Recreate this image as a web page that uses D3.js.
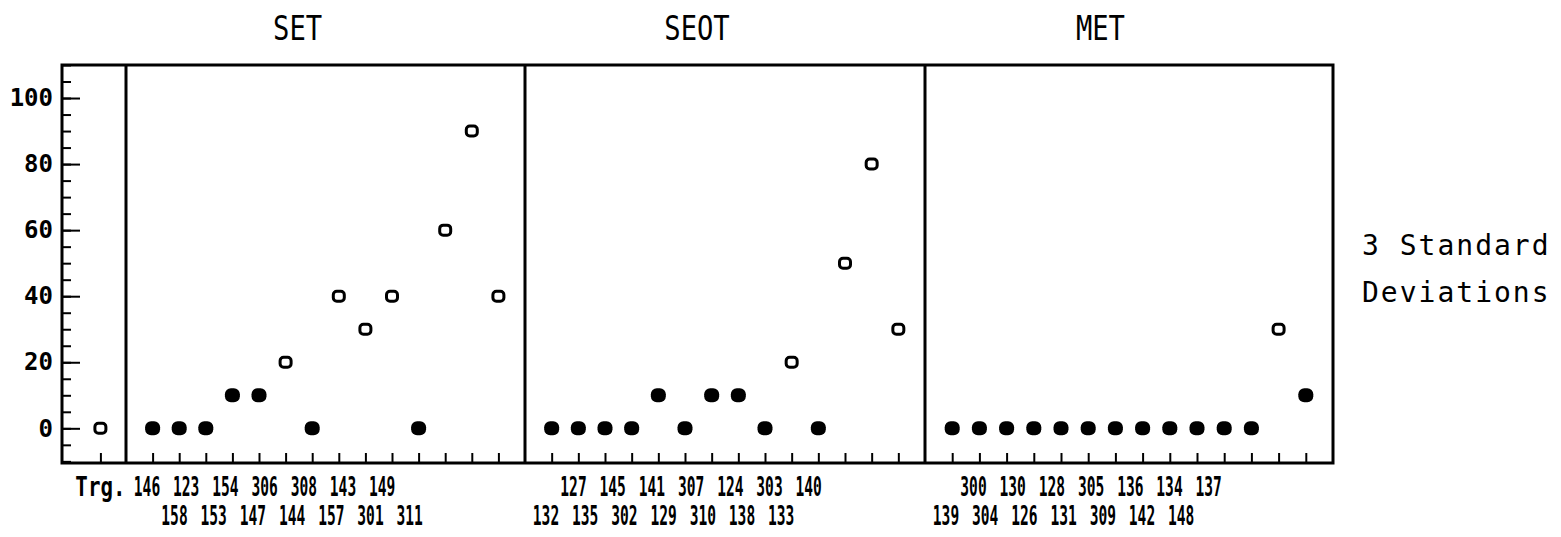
<!DOCTYPE html>
<html>
<head>
<meta charset="utf-8">
<script src="https://cdn.jsdelivr.net/npm/d3@7"></script>
<style>
  body { margin: 0; background: #fff; }
  text { font-family: "DejaVu Sans Mono", monospace; fill: #000; }
</style>
</head>
<body>
<div id="chart"></div>
<script>
// values (0/1 = filled dot / open "o")
var trgIds = ["Trg."];
var trgValues = [0];
var trgOpen = [1];

var setIds = ["146", "158", "123", "153", "154", "147", "306", "144", "308", "157", "143", "301", "149", "311"];
var setValues = [0, 0, 0, 10, 10, 20, 0, 40, 30, 40, 0, 60, 90, 40];
var setOpen = [0, 0, 0, 0, 0, 1, 0, 1, 1, 1, 0, 1, 1, 1];

var seotIds = ["132", "127", "135", "145", "302", "141", "129", "307", "310", "124", "138", "303", "133", "140"];
var seotValues = [0, 0, 0, 0, 10, 0, 10, 10, 0, 20, 0, 50, 80, 30];
var seotOpen = [0, 0, 0, 0, 0, 0, 0, 0, 0, 1, 0, 1, 1, 1];

var metIds = ["139", "300", "304", "130", "126", "128", "131", "305", "309", "136", "142", "134", "148", "137"];
var metValues = [0, 0, 0, 0, 0, 0, 0, 0, 0, 0, 0, 0, 30, 10];
var metOpen = [0, 0, 0, 0, 0, 0, 0, 0, 0, 0, 0, 0, 1, 0];

var titles = ["SET", "SEOT", "MET"];
var yTicks = [0, 20, 40, 60, 80, 100];
var note = ["3 Standard", "Deviations"];

var width = 1561, height = 537;
// frame edges (window.top is taken, so no "top" here)
var fLeft = 62, fRight = 1333, fTop = 65, fBottom = 463;
var edges = [62, 126, 525, 925, 1333];

var svg = d3.select("#chart").append("svg")
  .attr("width", width).attr("height", height);

var y = d3.scaleLinear().domain([-10.5, 110]).range([fBottom, fTop]);

// panels: leadRow 0 = first label on the upper line
var panels = [
  { ids: setIds, values: setValues, open: setOpen, title: titles[0], leadRow: 0 },
  { ids: seotIds, values: seotValues, open: seotOpen, title: titles[1], leadRow: 1 },
  { ids: metIds, values: metValues, open: metOpen, title: titles[2], leadRow: 1 }
];
panels.forEach(function(p, i) {
  p.x0 = edges[i + 1];
  p.x1 = edges[i + 2];
  p.x = d3.scalePoint().domain(p.ids).range([p.x0, p.x1]).padding(1);
});
var trgX = d3.scalePoint().domain(trgIds).range([edges[0], edges[1]]).padding(1).align(0.6);

// y axis, minor and major ticks drawn inward
svg.append("g")
  .attr("transform", "translate(" + fLeft + ",0)")
  .call(d3.axisLeft(y).tickValues(d3.range(-10, 111, 5)).tickSize(-9).tickFormat(""))
  .call(function(g) { g.select(".domain").remove(); })
  .selectAll("line").attr("stroke", "#000").attr("stroke-width", 2);

var yAxis = svg.append("g")
  .attr("transform", "translate(" + fLeft + ",0)")
  .call(d3.axisLeft(y).tickValues(yTicks).tickSize(-18).tickPadding(9))
  .call(function(g) { g.select(".domain").remove(); });
yAxis.selectAll("line").attr("stroke", "#000").attr("stroke-width", 2);
yAxis.selectAll("text")
  .attr("font-family", "DejaVu Sans Mono")
  .attr("font-weight", "bold")
  .attr("font-size", 24)
  .attr("fill", "#000");

// bottom ticks
function bottomTicks(scale) {
  svg.append("g")
    .attr("transform", "translate(0," + fBottom + ")")
    .call(d3.axisBottom(scale).tickSize(-10).tickFormat(""))
    .call(function(g) { g.select(".domain").remove(); })
    .selectAll("line").attr("stroke", "#000").attr("stroke-width", 2);
}
bottomTicks(trgX);
panels.forEach(function(p) { bottomTicks(p.x); });

// frame + dividers
svg.append("rect")
  .attr("x", fLeft).attr("y", fTop)
  .attr("width", fRight - fLeft).attr("height", fBottom - fTop)
  .attr("fill", "none").attr("stroke", "#000").attr("stroke-width", 3);
svg.selectAll(".divider")
  .data(edges.slice(1, 4))
  .enter().append("line")
  .attr("x1", function(d) { return d; }).attr("x2", function(d) { return d; })
  .attr("y1", fTop).attr("y2", fBottom)
  .attr("stroke", "#000").attr("stroke-width", 3);

// markers
function drawPoints(ids, values, open, xs) {
  var pts = ids.map(function(id, i) { return { id: id, v: values[i], open: open[i] }; });
  svg.append("g").selectAll("rect")
    .data(pts)
    .enter().append("rect")
    .each(function(d) {
      var w = d.open ? 11 : 15, h = d.open ? 10 : 14;
      d3.select(this)
        .attr("x", xs(d.id) - w / 2)
        .attr("y", y(d.v) - h / 2)
        .attr("width", w).attr("height", h)
        .attr("rx", d.open ? 3.5 : 6)
        .attr("fill", d.open ? "none" : "#000")
        .attr("stroke", "#000")
        .attr("stroke-width", d.open ? 3 : 0);
    });
}
drawPoints(trgIds, trgValues, trgOpen, trgX);
panels.forEach(function(p) { drawPoints(p.ids, p.values, p.open, p.x); });

// squeezed label helper
function label(x, yy, str, size, sx, weight) {
  svg.append("text")
    .attr("transform", "translate(" + x + "," + yy + ") scale(" + sx + ",1)")
    .attr("text-anchor", "middle")
    .attr("font-size", size)
    .attr("font-weight", weight || "normal")
    .text(str);
}

var rowY = [496, 525];
label(trgX(trgIds[0]), rowY[0], trgIds[0], 26, 0.8, "bold");
panels.forEach(function(p) {
  p.ids.forEach(function(id, i) {
    var lx = p.x0 + 21 + Math.floor(i / 2) * 39.2 + (i % 2) * 27.5;
    var row = (i % 2 === 0) ? p.leadRow : 1 - p.leadRow;
    label(lx, rowY[row], id, 26, 0.56, "bold");
  });
  label(p.x0 + (p.x1 - p.x0) * 0.43, 40, p.title, 34, 0.8);
});

// right-hand note
svg.selectAll(".note")
  .data(note)
  .enter().append("text")
  .attr("x", 1362)
  .attr("y", function(d, i) { return 255 + i * 47; })
  .attr("font-size", 28)
  .attr("letter-spacing", 2)
  .text(function(d) { return d; });
</script>
</body>
</html>
